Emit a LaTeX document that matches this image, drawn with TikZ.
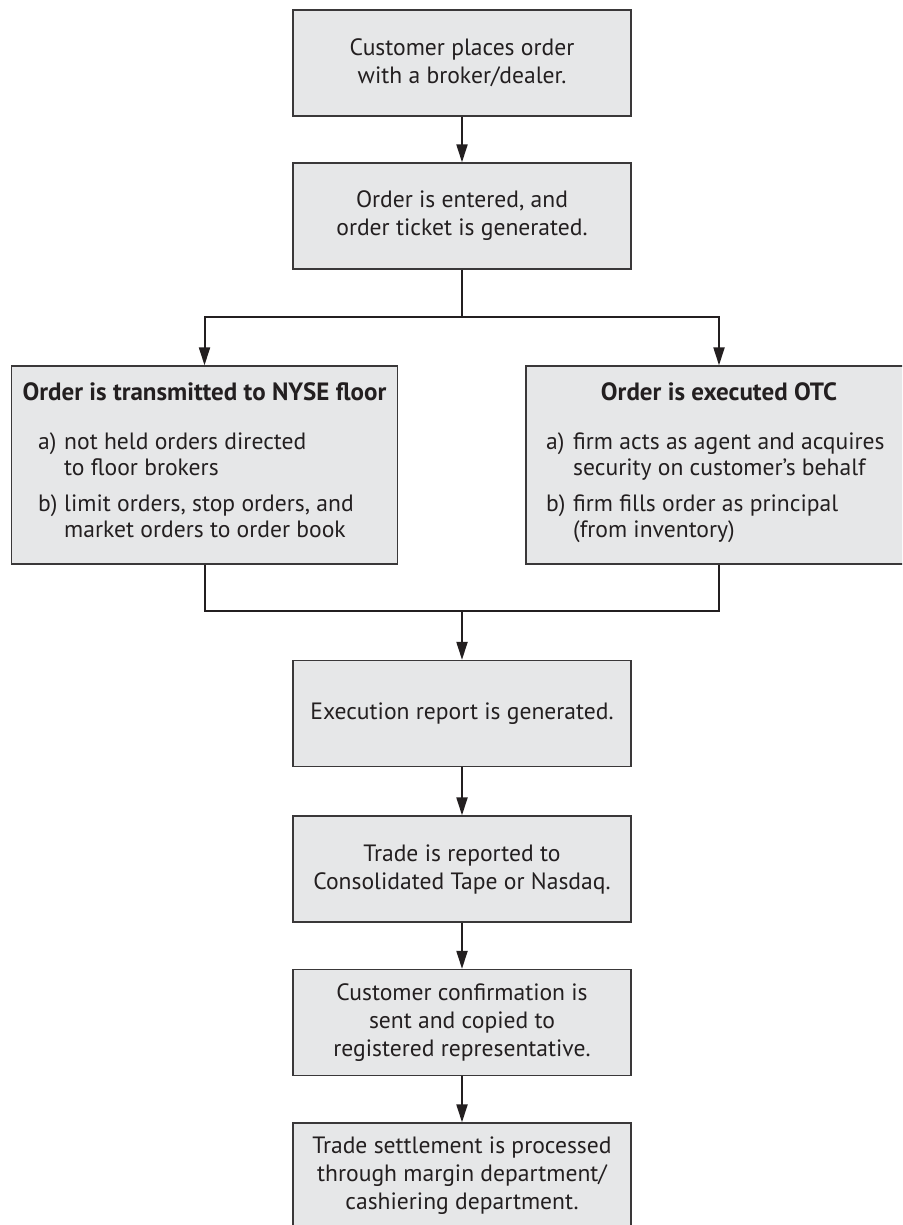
\documentclass[tikz,border=0pt]{standalone}
\usepackage{fontspec}
\setmainfont{PT Sans}
\usetikzlibrary{arrows.meta}
\definecolor{boxfill}{HTML}{E6E7E8}
\definecolor{ink}{HTML}{231F20}
\definecolor{edge}{HTML}{3A3839}

\begin{document}
\begin{tikzpicture}[x=1pt,y=-1pt,
  box/.style={draw=edge, line width=1.3pt, fill=boxfill, inner sep=0pt},
  mainbox/.style={box, minimum width=338pt, minimum height=106pt,
    align=center, text=ink, font=\fontsize{23.6}{28}\selectfont},
  sidebox/.style={box, minimum width=386pt, minimum height=198pt},
  flow/.style={draw=ink, line width=2pt, -{Triangle[length=18pt,width=11pt]}},
  link/.style={draw=ink, line width=2pt},
  title/.style={anchor=base, inner sep=0pt, text=ink, font=\fontsize{25}{28}\selectfont\bfseries},
  itm/.style={anchor=base west, inner sep=0pt, text=ink, font=\fontsize{23.6}{28}\selectfont},
]
\useasboundingbox (0,0) rectangle (902,1225);
\clip (0,0) rectangle (902,1225);

% main column of steps
\node[mainbox] (place)  at (462,63)    {Customer places order\\with a broker/dealer.};
\node[mainbox] (enter)  at (462,216)   {Order is entered, and\\order ticket is generated.};
\node[mainbox] (report) at (462,713.5) {Execution report is generated.};
\node[mainbox] (tape)   at (462,869)   {Trade is reported to\\Consolidated Tape or Nasdaq.};
\node[mainbox] (confirm) at (462,1022.5) {Customer confirmation is\\sent and copied to\\registered representative.};
\node[mainbox] (settle) at (462,1176)  {Trade settlement is processed\\through margin department/\\cashiering department.};

% the two execution routes
\node[sidebox] (nyse) at (204.5,465) {};
\node[sidebox] (otc)  at (719,465)   {};

\node[title] (nyseT) at (204.5,400) {Order is transmitted to NYSE floor};
\node[itm] (nyseA)  at (38,449) {a)};
\node[itm] (nyseA1) at (64,449) {not held orders directed};
\node[itm] (nyseA2) at (64,475) {to floor brokers};
\node[itm] (nyseB)  at (38,511) {b)};
\node[itm] (nyseB1) at (64,511) {limit orders, stop orders, and};
\node[itm] (nyseB2) at (64,537) {market orders to order book};

\node[title] (otcT) at (719,400) {Order is executed OTC};
\node[itm] (otcA)  at (546,449) {a)};
\node[itm] (otcA1) at (573,449) {firm acts as agent and acquires};
\node[itm] (otcA2) at (573,475) {security on customer’s behalf};
\node[itm] (otcB)  at (546,511) {b)};
\node[itm] (otcB1) at (573,511) {firm fills order as principal};
\node[itm] (otcB2) at (573,537) {(from inventory)};

% connectors
\coordinate (split) at (462,317);
\coordinate (merge) at (462,611);

\draw[flow] (place) -- (enter);
\draw[link] (enter.south) -- (split);
\draw[flow] (split) -| (nyse.north);
\draw[flow] (split) -| (otc.north);
\draw[link] (nyse.south) |- (merge);
\draw[link] (otc.south) |- (merge);
\draw[flow] (merge) -- (report.north);
\draw[flow] (report) -- (tape);
\draw[flow] (tape) -- (confirm);
\draw[flow] (confirm) -- (settle);
\end{tikzpicture}
\end{document}
